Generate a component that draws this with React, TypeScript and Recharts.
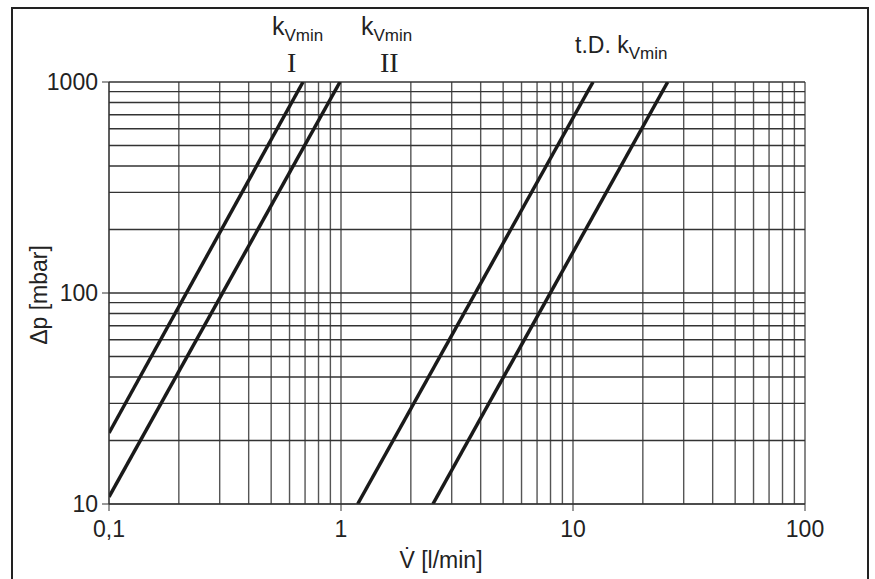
import { LineChart, Line, XAxis, YAxis, ReferenceLine } from 'recharts';

// flow rate V [l/min] vs pressure drop dp [mbar], endpoints of each curve
const kvminI = [
  { v: 0.1, dp: 21.7 },
  { v: 0.686, dp: 1000 },
];
const kvminII = [
  { v: 0.1, dp: 10.8 },
  { v: 0.99, dp: 1000 },
];
const tdA = [
  { v: 1.18, dp: 10 },
  { v: 12.2, dp: 1000 },
];
const tdB = [
  { v: 2.49, dp: 10 },
  { v: 25.6, dp: 1000 },
];

const xTicks = [0.1, 1, 10, 100];
const yTicks = [10, 100, 1000];
const xGrid = [
  0.1, 0.2, 0.3, 0.4, 0.5, 0.6, 0.7, 0.8, 0.9,
  1, 2, 3, 4, 5, 6, 7, 8, 9,
  10, 20, 30, 40, 50, 60, 70, 80, 90, 100,
];
const yGrid = [
  10, 20, 30, 40, 50, 60, 70, 80, 90,
  100, 200, 300, 400, 500, 600, 700, 800, 900, 1000,
];

const FONT = '"Liberation Sans", Arial, sans-serif';
const SERIF = '"Liberation Serif", "Times New Roman", serif';

const tickStyle = { fontSize: 23, fill: '#222', fontFamily: FONT };

const App: React.FC = () => {
  return (
    <div style={{ position: 'relative', width: 875, height: 579, overflow: 'hidden', background: '#fff' }}>
      <style>{`body{margin:0}`}</style>
      <div
        style={{
          position: 'absolute',
          left: 11,
          top: 7,
          width: 858,
          height: 600,
          border: '2px solid #222',
          boxSizing: 'border-box',
        }}
      />
      <LineChart
        width={875}
        height={579}
        margin={{ top: 82, right: 70, bottom: 35, left: 49 }}
        style={{ position: 'absolute', left: 0, top: 0 }}
      >
        {xGrid.map((x) => (
          <ReferenceLine key={'x' + x} x={x} stroke="#555" strokeWidth={1.4} />
        ))}
        {yGrid.map((y) => (
          <ReferenceLine key={'y' + y} y={y} stroke="#333" strokeWidth={1.4} />
        ))}
        <XAxis
          dataKey="v"
          type="number"
          scale="log"
          domain={[0.1, 100]}
          ticks={xTicks}
          allowDataOverflow
          height={40}
          tickSize={7}
          tickMargin={10}
          stroke="#333"
          tick={tickStyle}
          tickFormatter={(t: number) => String(t).replace('.', ',')}
        />
        <YAxis
          dataKey="dp"
          type="number"
          scale="log"
          domain={[10, 1000]}
          ticks={yTicks}
          allowDataOverflow
          width={60}
          tickSize={7}
          tickMargin={4}
          stroke="#333"
          tick={tickStyle}
        />
        <Line data={kvminI} dataKey="dp" type="linear" stroke="#1a1a1a" strokeWidth={3.5} dot={false} isAnimationActive={false} />
        <Line data={kvminII} dataKey="dp" type="linear" stroke="#1a1a1a" strokeWidth={3.5} dot={false} isAnimationActive={false} />
        <Line data={tdA} dataKey="dp" type="linear" stroke="#1a1a1a" strokeWidth={3.5} dot={false} isAnimationActive={false} />
        <Line data={tdB} dataKey="dp" type="linear" stroke="#1a1a1a" strokeWidth={3.5} dot={false} isAnimationActive={false} />
      </LineChart>

      {/* curve annotations */}
      <div style={{ position: 'absolute', left: 272, top: 12, fontFamily: FONT, fontSize: 25, color: '#222', whiteSpace: 'nowrap' }}>
        k<sub style={{ fontSize: 17 }}>Vmin</sub>
      </div>
      <div style={{ position: 'absolute', left: 287, top: 47, fontFamily: SERIF, fontSize: 28, color: '#222' }}>I</div>
      <div style={{ position: 'absolute', left: 361, top: 12, fontFamily: FONT, fontSize: 25, color: '#222', whiteSpace: 'nowrap' }}>
        k<sub style={{ fontSize: 17 }}>Vmin</sub>
      </div>
      <div style={{ position: 'absolute', left: 380, top: 47, fontFamily: SERIF, fontSize: 28, color: '#222' }}>II</div>
      <div style={{ position: 'absolute', left: 575, top: 32, fontFamily: FONT, fontSize: 23, color: '#222', whiteSpace: 'nowrap' }}>
        t.D. k<sub style={{ fontSize: 17 }}>Vmin</sub>
      </div>

      {/* axis titles */}
      <div
        style={{
          position: 'absolute',
          left: 39,
          top: 295,
          transform: 'translate(-50%, -50%) rotate(-90deg)',
          fontFamily: FONT,
          fontSize: 23,
          color: '#222',
          whiteSpace: 'nowrap',
        }}
      >
        Δp [mbar]
      </div>
      <div
        style={{
          position: 'absolute',
          left: 441,
          top: 560,
          transform: 'translate(-50%, -50%)',
          fontFamily: FONT,
          fontSize: 23,
          color: '#222',
          whiteSpace: 'nowrap',
        }}
      >
        V̇ [l/min]
      </div>
    </div>
  );
};

export default App;
